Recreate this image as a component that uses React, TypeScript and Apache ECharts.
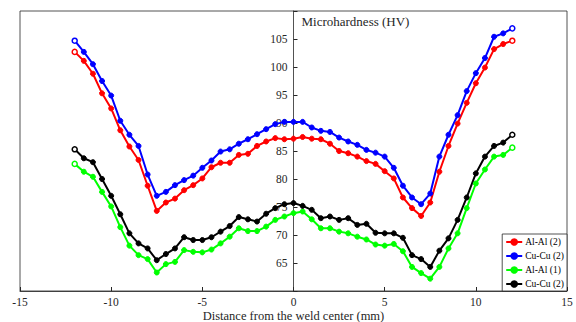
import React, { useEffect, useRef } from "react";
import * as echarts from "echarts";

const distances = [
  -12, -11.5, -11, -10.5, -10, -9.5, -9, -8.5, -8, -7.5, -7, -6.5, -6, -5.5, -5, -4.5, -4, -3.5, -3, -2.5, -2, -1.5, -1, -0.5,
  0, 0.5, 1, 1.5, 2, 2.5, 3, 3.5, 4, 4.5, 5, 5.5, 6, 6.5, 7, 7.5, 8, 8.5, 9, 9.5, 10, 10.5, 11, 11.5, 12,
];

const alAl2 = [
  102.7, 101.1, 98.8, 95.3, 92.6, 88.7, 85.8, 83.4, 78.8, 74.3, 75.8, 76.5, 78.0, 78.9, 80.1, 82.1, 82.9, 82.9, 84.3, 84.5, 85.9, 86.7, 87.3, 87.1,
  87.2, 87.5, 87.2, 87.1, 86.3, 85.0, 84.6, 84.0, 83.2, 82.7, 81.4, 80.1, 76.7, 74.8, 73.4, 75.8, 81.3, 85.9, 89.9, 93.6, 97.1, 99.9, 103.2, 104.1, 104.7,
];

const cuCu2 = [
  104.7, 102.7, 100.5, 97.5, 94.9, 90.4, 87.9, 85.9, 80.8, 77.0, 77.7, 78.9, 79.8, 80.6, 82.0, 83.3, 84.9, 85.3, 86.3, 87.1, 88.0, 88.9, 89.8, 90.2,
  90.2, 90.2, 89.2, 88.6, 88.4, 87.4, 86.7, 86.1, 85.2, 84.7, 84.0, 82.0, 78.8, 76.7, 75.5, 77.4, 84.0, 87.9, 91.4, 95.7, 98.9, 101.6, 105.4, 106.0, 106.9,
];

const alAl1 = [
  82.7, 81.3, 80.4, 77.7, 75.1, 71.4, 68.1, 66.4, 65.7, 63.3, 64.8, 65.2, 67.3, 67.0, 66.9, 67.4, 68.5, 69.7, 71.2, 70.7, 70.7, 71.5, 72.7, 73.3,
  73.9, 74.2, 72.8, 71.2, 71.2, 70.6, 70.3, 69.7, 69.2, 68.3, 68.1, 68.4, 67.1, 64.3, 63.2, 62.2, 64.3, 67.6, 70.3, 74.8, 79.2, 81.7, 84.0, 84.3, 85.6,
];

const cuCu2b = [
  85.3, 83.7, 83.0, 80.0, 77.0, 73.7, 70.3, 68.5, 67.6, 65.5, 66.6, 67.6, 69.6, 69.1, 69.1, 69.6, 70.6, 71.6, 73.2, 72.8, 72.4, 73.8, 74.8, 75.5,
  75.7, 75.2, 74.5, 73.0, 73.3, 72.7, 73.0, 71.8, 72.0, 70.4, 70.3, 70.3, 69.5, 66.4, 65.7, 64.3, 67.2, 69.4, 72.7, 76.7, 81.0, 84.0, 85.9, 86.5, 87.9,
];

const seriesDefs = [
  { name: "Al-Al (2)", color: "#ff0000", values: alAl2 },
  { name: "Cu-Cu (2)", color: "#0000ff", values: cuCu2 },
  { name: "Al-Al (1)", color: "#00ff00", values: alAl1 },
  { name: "Cu-Cu (2) ", color: "#000000", values: cuCu2b },
];

const xTicks = [-15, -10, -5, 0, 5, 10, 15];
const yTicks = [65, 70, 75, 80, 85, 90, 95, 100, 105];
const xAxisTitle = "Distance from the weld center (mm)";
const yAxisTitle = "Microhardness (HV)";

const FONT = "'Liberation Serif', 'Times New Roman', serif";
const AXIS_COLOR = "#262626";

const GRID_LEFT = 20;
const GRID_RIGHT = 9;
const WIDTH = 576;
const HEIGHT = 322;

export default function App() {
  const ref = useRef<HTMLDivElement>(null);

  useEffect(() => {
    if (!ref.current) return;
    const chart = echarts.init(ref.current, undefined, { renderer: "svg" });

    const series = seriesDefs.map((s) => ({
      name: s.name,
      type: "line",
      symbol: "circle",
      symbolSize: 5,
      color: s.color,
      lineStyle: { width: 2, color: s.color },
      itemStyle: { color: s.color, borderColor: s.color, borderWidth: 1 },
      data: s.values.map((v, i) => {
        const item: any = { value: [distances[i], v] };
        if (i === 0 || i === s.values.length - 1) {
          item.itemStyle = { color: "#ffffff", borderColor: s.color, borderWidth: 1.5 };
        }
        return item;
      }),
    }));

    const plotWidth = WIDTH - GRID_LEFT - GRID_RIGHT;
    // y axis sits at x = 0, which is the middle of the symmetric x range
    const yOffset = -plotWidth / 2;

    chart.setOption({
      animation: false,
      grid: {
        left: GRID_LEFT,
        right: GRID_RIGHT,
        top: 11,
        bottom: 31,
        containLabel: false,
        outerBoundsMode: "none",
        show: true,
        borderColor: AXIS_COLOR,
        borderWidth: 0.8,
        backgroundColor: "transparent",
      },
      graphic: [
        {
          type: "text",
          x: GRID_LEFT + plotWidth / 2,
          y: 316,
          style: {
            text: xAxisTitle,
            fontFamily: FONT,
            fontSize: 12.5,
            fill: AXIS_COLOR,
            align: "center",
            verticalAlign: "middle",
          },
        },
      ],
      legend: {
        orient: "vertical",
        right: 9,
        bottom: 31,
        backgroundColor: "#ffffff",
        borderColor: AXIS_COLOR,
        borderWidth: 0.8,
        borderRadius: 0,
        padding: [3, 3, 2, 3],
        itemWidth: 16,
        itemHeight: 7,
        itemGap: 4,
        data: seriesDefs.map((s) => s.name),
        formatter: (name: string) => name.trim(),
        textStyle: { fontFamily: FONT, fontSize: 9.5, color: "#000000", padding: [0, 0, 0, -2] },
      },
      xAxis: {
        type: "value",
        min: -15,
        max: 15,
        interval: 5,
        axisLine: { onZero: false, lineStyle: { color: AXIS_COLOR, width: 0.8 } },
        axisTick: { inside: true, length: 4, lineStyle: { color: AXIS_COLOR } },
        axisLabel: {
          fontFamily: FONT,
          fontSize: 11.5,
          color: AXIS_COLOR,
          margin: 5,
          formatter: (v: number) => (xTicks.includes(v) ? String(v) : ""),
        },
        splitLine: { show: false },
      },
      yAxis: {
        type: "value",
        min: 60,
        max: 110,
        interval: 5,
        offset: yOffset,
        splitLine: { show: false },
        name: yAxisTitle,
        nameLocation: "end",
        nameGap: -4,
        nameTextStyle: {
          fontFamily: FONT,
          fontSize: 13,
          color: AXIS_COLOR,
          align: "left",
          verticalAlign: "top",
          padding: [0, 0, 0, 8],
        },
        axisLine: { onZero: false, lineStyle: { color: AXIS_COLOR, width: 0.8 } },
        axisTick: { inside: true, length: 4, lineStyle: { color: AXIS_COLOR } },
        axisLabel: {
          fontFamily: FONT,
          fontSize: 11.5,
          color: AXIS_COLOR,
          margin: 6,
          formatter: (v: number) => (yTicks.includes(v) ? String(v) : ""),
        },
      },
      series,
    });

    return () => chart.dispose();
  }, []);

  return (
    <div
      ref={ref}
      style={{ position: "absolute", left: 0, top: 0, width: WIDTH, height: HEIGHT, background: "#ffffff" }}
    />
  );
}
